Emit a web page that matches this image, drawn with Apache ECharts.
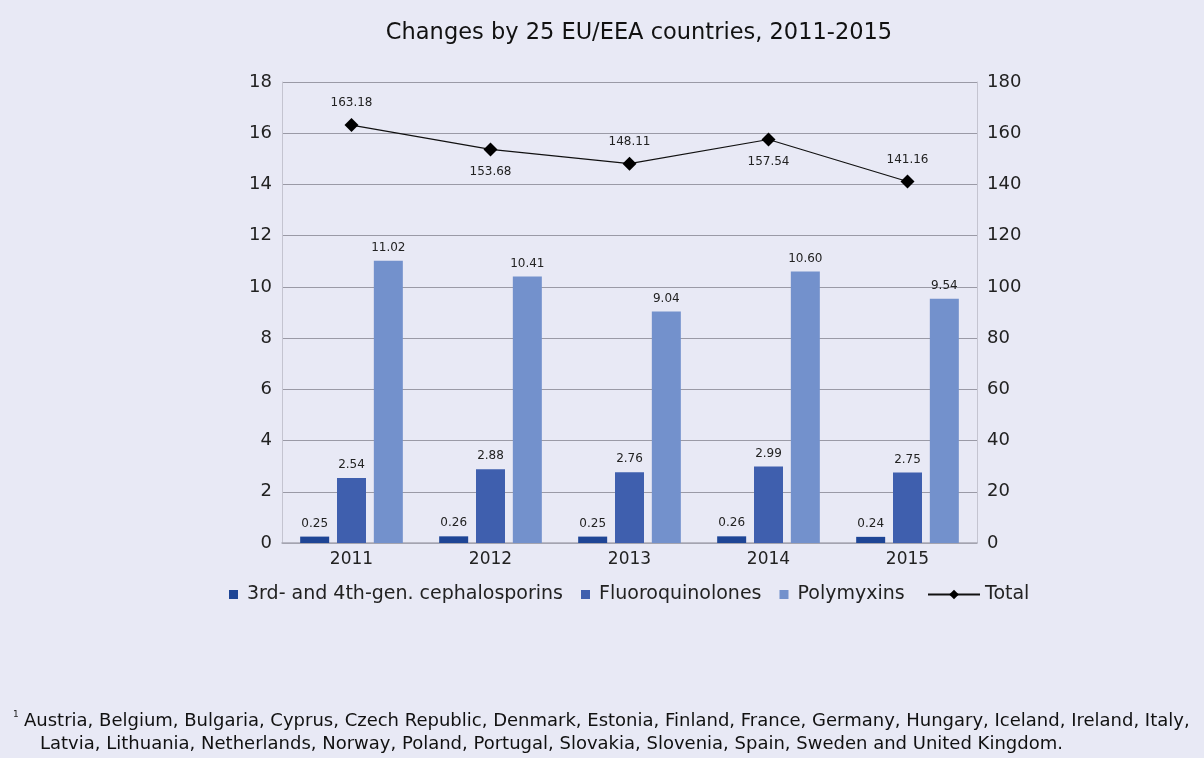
<!DOCTYPE html>
<html>
<head>
<meta charset="utf-8">
<script src="https://cdn.jsdelivr.net/npm/echarts@6/dist/echarts.min.js"></script>
<style>
  html, body { margin: 0; padding: 0; background: #e8e9f5; }
  #chart { width: 1204px; height: 758px; }
</style>
</head>
<body>
<div id="chart"></div>
<script>
// Consumption by antimicrobial class, 25 EU/EEA countries
const years = ['2011', '2012', '2013', '2014', '2015'];
const cephalosporins = [0.25, 0.26, 0.25, 0.26, 0.24];
const fluoroquinolones = [2.54, 2.88, 2.76, 2.99, 2.75];
const polymyxins = [11.02, 10.41, 9.04, 10.60, 9.54];
const total = [163.18, 153.68, 148.11, 157.54, 141.16];
// label placement for the total line (above / below the marker)
const totalLabelPos = ['top', 'bottom', 'top', 'bottom', 'top'];

const seriesNames = ['3rd- and 4th-gen. cephalosporins', 'Fluoroquinolones', 'Polymyxins', 'Total'];
const footnoteLines = [
  'Austria, Belgium, Bulgaria, Cyprus, Czech Republic, Denmark, Estonia, Finland, France, Germany, Hungary, Iceland, Ireland, Italy,',
  'Latvia, Lithuania, Netherlands, Norway, Poland, Portugal, Slovakia, Slovenia, Spain, Sweden and United Kingdom.'
];

const FONT = 'DejaVu Sans, Verdana, sans-serif';
const chart = echarts.init(document.getElementById('chart'));

const barLabel = {
  show: true,
  position: 'top',
  distance: 7,
  fontFamily: FONT,
  fontSize: 12,
  color: '#222',
  formatter: p => p.value.toFixed(2)
};

const axisLabelStyle = { fontFamily: FONT, fontSize: 18, color: '#222' };
const legendText = { fontFamily: FONT, fontSize: 19, color: '#222', padding: [0, 0, 0, 4] };

chart.setOption({
  backgroundColor: '#e8e9f5',
  animation: false,
  title: {
    text: 'Changes by 25 EU/EEA countries, 2011-2015',
    left: 634,
    textAlign: 'center',
    top: 17,
    textStyle: { fontFamily: FONT, fontSize: 22.5, fontWeight: 'normal', color: '#111' }
  },
  grid: { left: 282, right: 227, top: 82, bottom: 215 },
  legend: [
    {
      top: 580,
      left: 224,
      itemGap: 18,
      itemWidth: 9,
      itemHeight: 9,
      textStyle: legendText,
      data: [
        { name: seriesNames[0], icon: 'rect' },
        { name: seriesNames[1], icon: 'rect' },
        { name: seriesNames[2], icon: 'rect' }
      ]
    },
    {
      top: 580,
      left: 922,
      itemWidth: 52,
      itemHeight: 12,
      textStyle: { ...legendText, padding: 0 },
      data: [{ name: seriesNames[3] }]
    }
  ],
  xAxis: {
    type: 'category',
    data: years,
    axisLine: { lineStyle: { color: '#a8a8b4', width: 1.5 } },
    axisTick: { show: false },
    axisLabel: { ...axisLabelStyle, fontSize: 17, margin: 8 }
  },
  yAxis: [
    {
      type: 'value', min: 0, max: 18, interval: 2,
      axisLine: { show: true, lineStyle: { color: '#c4c4d0' } },
      axisTick: { show: false },
      axisLabel: { ...axisLabelStyle, margin: 10 },
      splitLine: { lineStyle: { color: '#9a9aa6', width: 1.2 } }
    },
    {
      type: 'value', min: 0, max: 180, interval: 20,
      position: 'right',
      axisLine: { show: true, lineStyle: { color: '#c4c4d0' } },
      axisTick: { show: false },
      axisLabel: { ...axisLabelStyle, margin: 10 },
      splitLine: { show: false }
    }
  ],
  series: [
    {
      name: seriesNames[0], type: 'bar', data: cephalosporins,
      barWidth: 29, barGap: '27%',
      itemStyle: { color: '#1e4595' }, label: barLabel
    },
    {
      name: seriesNames[1], type: 'bar', data: fluoroquinolones,
      barWidth: 29, barGap: '27%',
      itemStyle: { color: '#3f5fae' }, label: barLabel
    },
    {
      name: seriesNames[2], type: 'bar', data: polymyxins,
      barWidth: 29, barGap: '27%',
      itemStyle: { color: '#7391cc' }, label: barLabel
    },
    {
      name: seriesNames[3], type: 'line', yAxisIndex: 1,
      data: total.map((v, i) => ({
        value: v,
        label: { position: totalLabelPos[i], distance: 9 }
      })),
      symbol: 'diamond', symbolSize: 14,
      lineStyle: { color: '#111', width: 1.2 },
      itemStyle: { color: '#000' },
      label: {
        show: true, fontFamily: FONT, fontSize: 12, color: '#222',
        formatter: p => p.value.toFixed(2)
      }
    }
  ],
  graphic: [
    { type: 'text', left: 13, top: 710,
      style: { text: '1', font: '9px ' + FONT, fill: '#222' } },
    { type: 'text', left: 24, top: 712,
      style: { text: footnoteLines[0], font: '18px ' + FONT, fill: '#111' } },
    { type: 'text', left: 40, top: 735,
      style: { text: footnoteLines[1], font: '18px ' + FONT, fill: '#111' } }
  ]
});
</script>
</body>
</html>
